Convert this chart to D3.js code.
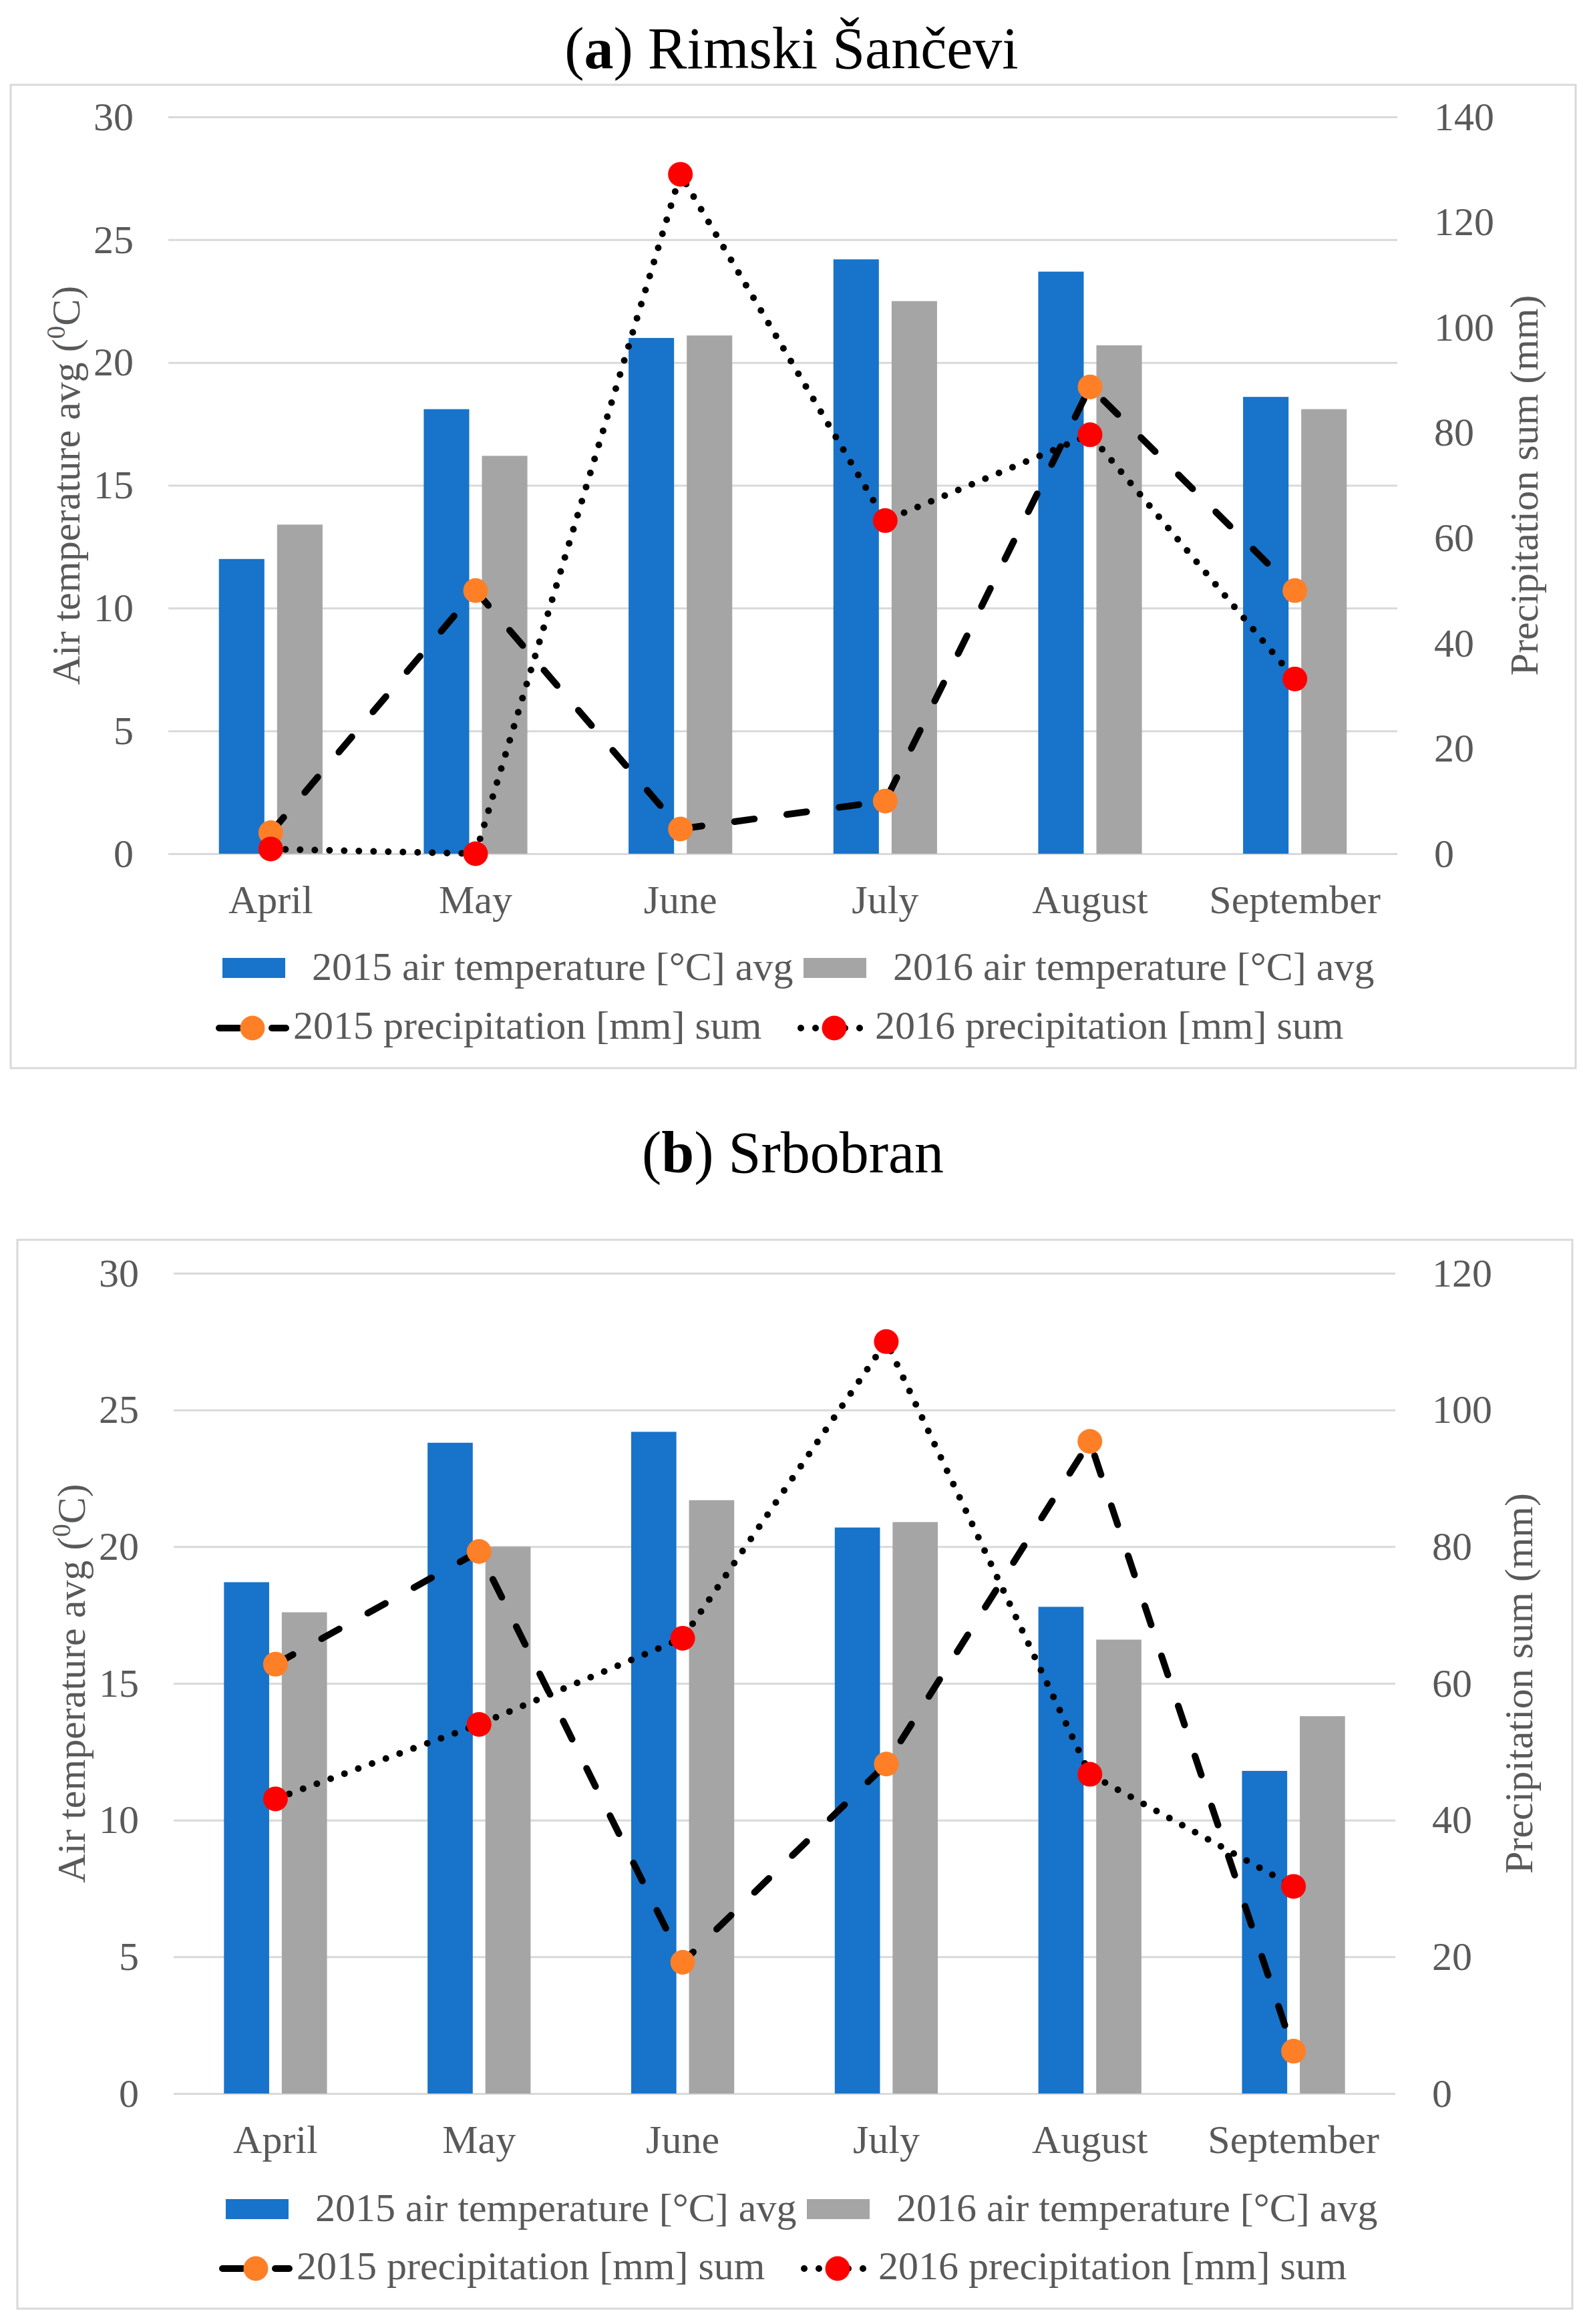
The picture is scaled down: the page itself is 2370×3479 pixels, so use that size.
<!DOCTYPE html>
<html>
<head>
<meta charset="utf-8">
<script src="https://cdnjs.cloudflare.com/ajax/libs/d3/7.8.5/d3.min.js"></script>
<style>
	body{margin:0;background:#ffffff;}
	svg text{font-family:"Liberation Serif","Times New Roman",serif;}
</style>
</head>
<body>
<svg id="chart" width="2370" height="3479"></svg>
<script>
(function(){

	// ---- data ----
	var months = ["April", "May", "June", "July", "August", "September"];
	var years = ["2015", "2016"];

	var tempA2015 = [12.0, 18.1, 21.0, 24.2, 23.7, 18.6];
	var tempA2016 = [13.4, 16.2, 21.1, 22.5, 20.7, 18.1];
	var precA2015 = [4.0, 50.0, 4.7, 10.0, 88.7, 50.0];
	var precA2016 = [0.9, 0.0, 129.1, 63.3, 79.6, 33.2];

	var tempB2015 = [18.7, 23.8, 24.2, 20.7, 17.8, 11.8];
	var tempB2016 = [17.6, 20.0, 21.7, 20.9, 16.6, 13.8];
	var precB2015 = [62.8, 79.3, 19.2, 48.2, 95.4, 6.2];
	var precB2016 = [43.1, 54.0, 66.6, 110.0, 46.7, 30.3];

	var tempTicks = [0, 5, 10, 15, 20, 25, 30];
	var precTicksA = [0, 20, 40, 60, 80, 100, 120, 140];
	var precTicksB = [0, 20, 40, 60, 80, 100, 120];

	var legendLabels = [
		"2015 air temperature [°C] avg",
		"2016 air temperature [°C] avg",
		"2015 precipitation [mm] sum",
		"2016 precipitation [mm] sum"
	];

	var COL = {
		blue: "#1873CA",
		gray: "#A5A5A5",
		orange: "#FF7F27",
		red: "#FF0000",
		text: "#595959",
		grid: "#D9D9D9"
	};
	var FS = 60; // axis / legend font size

	// layout of the two panels
	var panels = [
		{letter:"a", name:"Rimski Šančevi", t15:tempA2015, t16:tempA2016, p15:precA2015, p16:precA2016,
		 pTicks:precTicksA, box:[16,127,2359,1599], titleX:1185, titleY:102,
		 x0:252, x1:2092, yTop:175, yBot:1278, leftTitleX:98, rightTitleX:2281,
		 legX:333, legY1:1449, legY2:1539},
		{letter:"b", name:"Srbobran", t15:tempB2015, t16:tempB2016, p15:precB2015, p16:precB2016,
		 pTicks:precTicksB, box:[26,1856,2354,3456], titleX:1187, titleY:1755,
		 x0:260, x1:2089, yTop:1906, yBot:3134, leftTitleX:106, rightTitleX:2273,
		 legX:338, legY1:3307, legY2:3396}
	];

	var svg = d3.select("#chart");

	function drawPanel(P){
		var g = svg.append("g").attr("class", "panel-" + P.letter);

		// frame
		g.append("rect")
			.attr("x", P.box[0]).attr("y", P.box[1])
			.attr("width", P.box[2] - P.box[0]).attr("height", P.box[3] - P.box[1])
			.attr("fill", "none").attr("stroke", COL.grid).attr("stroke-width", 3);

		// title (outside the frame)
		var title = svg.append("text")
			.attr("x", P.titleX).attr("y", P.titleY)
			.attr("text-anchor", "middle")
			.style("font-size", "88px").attr("fill", "#000");
		title.append("tspan").text("(");
		title.append("tspan").style("font-weight", "bold").text(P.letter);
		title.append("tspan").text(") " + P.name);

		var x = d3.scaleBand().domain(months).range([P.x0, P.x1]).paddingInner(0).paddingOuter(0);
		var bw = x.bandwidth() * 0.222;
		var gap = x.bandwidth() * 0.062;
		var xs = d3.scaleBand().domain(years).range([-(bw + gap / 2), bw + gap / 2])
			.paddingInner(gap / (bw + gap)).paddingOuter(0);

		var yT = d3.scaleLinear().domain([0, 30]).range([P.yBot, P.yTop]);
		var yP = d3.scaleLinear().domain([0, d3.max(P.pTicks)]).range([P.yBot, P.yTop]);

		// gridlines
		var grid = g.append("g").attr("transform", "translate(" + P.x0 + ",0)")
			.call(d3.axisLeft(yT).tickValues(tempTicks).tickSize(-(P.x1 - P.x0)).tickFormat(""));
		grid.select(".domain").remove();
		grid.selectAll("line").attr("stroke", COL.grid).attr("stroke-width", 3);

		// left axis
		var ax = g.append("g").attr("transform", "translate(" + P.x0 + ",0)")
			.call(d3.axisLeft(yT).tickValues(tempTicks).tickSize(0).tickPadding(52));
		ax.select(".domain").remove();
		ax.selectAll("text").style("font-size", FS + "px").attr("fill", COL.text)
			.style("font-family", "'Liberation Serif','Times New Roman',serif");

		// right axis
		var ar = g.append("g").attr("transform", "translate(" + P.x1 + ",0)")
			.call(d3.axisRight(yP).tickValues(P.pTicks).tickSize(0).tickPadding(55));
		ar.select(".domain").remove();
		ar.selectAll("text").style("font-size", FS + "px").attr("fill", COL.text)
			.style("font-family", "'Liberation Serif','Times New Roman',serif");

		// category axis
		var ab = g.append("g").attr("transform", "translate(0," + P.yBot + ")")
			.call(d3.axisBottom(x).tickSize(0));
		ab.select(".domain").remove();
		ab.selectAll("text").attr("y", 89).attr("dy", 0)
			.style("font-size", FS + "px").attr("fill", COL.text)
			.style("font-family", "'Liberation Serif','Times New Roman',serif");

		// axis titles
		var lt = g.append("text")
			.attr("transform", "translate(" + P.leftTitleX + "," + ((P.yTop + P.yBot) / 2) + ") rotate(-90)")
			.attr("text-anchor", "middle").attr("dy", "0.35em")
			.style("font-size", FS + "px").attr("fill", COL.text);
		lt.append("tspan").text("Air temperature avg (");
		lt.append("tspan").attr("dy", -22).style("font-size", "39px").text("0");
		lt.append("tspan").attr("dy", 22).text("C)");

		g.append("text")
			.attr("transform", "translate(" + P.rightTitleX + "," + ((P.yTop + P.yBot) / 2) + ") rotate(-90)")
			.attr("text-anchor", "middle").attr("dy", "0.35em")
			.style("font-size", FS + "px").attr("fill", COL.text)
			.text("Precipitation sum (mm)");

		// bars
		var barData = [];
		months.forEach(function(m, i){
			barData.push({m:m, yr:"2015", v:P.t15[i]});
			barData.push({m:m, yr:"2016", v:P.t16[i]});
		});
		g.append("g").selectAll("rect").data(barData).enter().append("rect")
			.attr("x", function(d){ return x(d.m) + x.bandwidth() / 2 + xs(d.yr); })
			.attr("width", xs.bandwidth())
			.attr("y", function(d){ return yT(d.v); })
			.attr("height", function(d){ return yT(0) - yT(d.v); })
			.attr("fill", function(d){ return d.yr === "2015" ? COL.blue : COL.gray; });

		// precipitation lines
		var cx = function(d, i){ return x(months[i]) + x.bandwidth() / 2; };
		var line = d3.line().x(cx).y(function(d){ return yP(d); });

		var series = [
			{vals:P.p15, dash:"30,49", fill:COL.orange},
			{vals:P.p16, dash:"0,22", fill:COL.red}
		];
		series.forEach(function(s){
			g.append("path").datum(s.vals).attr("d", line)
				.attr("fill", "none").attr("stroke", "#000").attr("stroke-width", 10)
				.attr("stroke-dasharray", s.dash).attr("stroke-linecap", "round")
				.attr("stroke-linejoin", "round");
			g.append("g").selectAll("circle").data(s.vals).enter().append("circle")
				.attr("cx", cx).attr("cy", function(d){ return yP(d); })
				.attr("r", 18.5).attr("fill", s.fill);
		});

		// legend
		var L = g.append("g").attr("class", "legend");
		var lx = P.legX;
		[[lx, COL.blue, legendLabels[0]], [lx + 870, COL.gray, legendLabels[1]]].forEach(function(e){
			L.append("rect").attr("x", e[0]).attr("y", P.legY1 - 15).attr("width", 94).attr("height", 30).attr("fill", e[1]);
			L.append("text").attr("x", e[0] + 134).attr("y", P.legY1).attr("dy", "0.3em")
				.style("font-size", FS + "px").attr("fill", COL.text).text(e[2]);
		});
		[[lx, series[0], legendLabels[2]], [lx + 871, series[1], legendLabels[3]]].forEach(function(e){
			var x0 = e[0] - 5;
			L.append("path").attr("d", "M" + x0 + "," + P.legY2 + "H" + (x0 + 100))
				.attr("fill", "none").attr("stroke", "#000").attr("stroke-width", 10)
				.attr("stroke-dasharray", e[1].dash).attr("stroke-linecap", "round");
			L.append("circle").attr("cx", e[0] + 45).attr("cy", P.legY2).attr("r", 18.5).attr("fill", e[1].fill);
			L.append("text").attr("x", e[0] + 106).attr("y", P.legY2).attr("dy", "0.27em")
				.style("font-size", FS + "px").attr("fill", COL.text).text(e[2]);
		});
	}

	panels.forEach(drawPanel);

})();
</script>
</body>
</html>
